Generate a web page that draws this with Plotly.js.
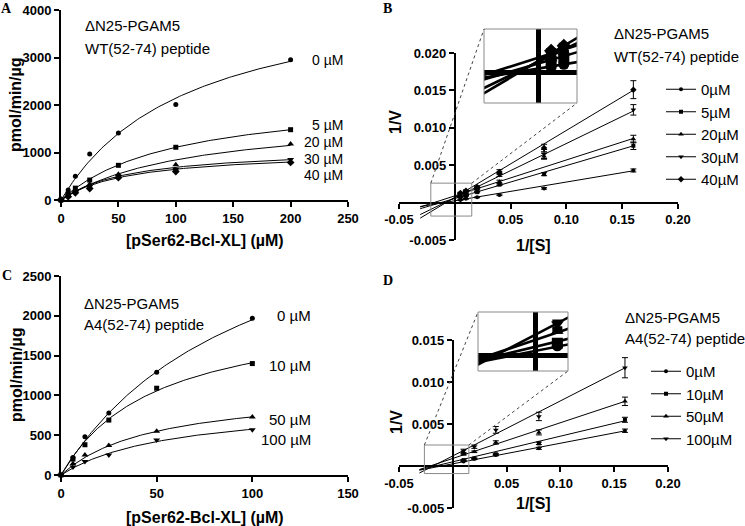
<!DOCTYPE html>
<html><head><meta charset="utf-8">
<script src="https://cdn.plot.ly/plotly-3.0.1.min.js"></script>
<style>html,body{margin:0;padding:0;background:#fff}#chart{width:745px;height:526px}</style>
</head><body><div id="chart"></div>
<script>
// ---------------- Panel A : v vs [S], WT(52-74) peptide ----------------
const sA = [0, 6.25, 12.5, 25, 50, 100, 200];
const namesA = ['0 µM', '5 µM', '20 µM', '30 µM', '40 µM'];
const vA_0  = [0, 210, 500, 970, 1410, 2010, 2950];
const vA_5  = [0, 130, 250, 420, 730, 1110, 1480];
const vA_20 = [0, 100, 200, 330, 540, 740, 1180];
const vA_30 = [0, 90, 170, 280, 500, 640, 850];
const vA_40 = [0, 70, 150, 240, 470, 600, 790];
const vmaxA = [4570, 2220, 1800, 1109, 1044];   // Michaelis-Menten fit
const kmA   = [113, 100, 113, 61, 61];
const labelYA = [2950, 1580, 1220, 870, 520];

// ---------------- Panel B : Lineweaver-Burk, WT peptide ----------------
const invSB = [0.005, 0.01, 0.02, 0.04, 0.08, 0.16];
const namesB = ['0µM', '5µM', '20µM', '30µM', '40µM'];
const ivB_0  = [0.00034, 0.0005, 0.0007, 0.00103, 0.0019, 0.0043];
const ivB_5  = [0.00068, 0.0009, 0.0014, 0.0024, 0.0038, 0.0076];
const ivB_20 = [0.00085, 0.0012, 0.0018, 0.0028, 0.0062, 0.0085];
const ivB_30 = [0.0011, 0.0014, 0.0019, 0.0037, 0.0065, 0.0124];
const ivB_40 = [0.0013, 0.0016, 0.0021, 0.0041, 0.0073, 0.0151];
const erB_0  = [0.00003, 0.00004, 0.00005, 0.0001, 0.0001, 0.0002];
const erB_5  = [0.00004, 0.00005, 0.00008, 0.0001, 0.0002, 0.0005];
const erB_20 = [0.00005, 0.00008, 0.0001, 0.0002, 0.0004, 0.0005];
const erB_30 = [0.00006, 0.0001, 0.0001, 0.0002, 0.0006, 0.0007];
const erB_40 = [0.00008, 0.0001, 0.0001, 0.0003, 0.0005, 0.0012];
const slopeB = [0.0250, 0.0440, 0.0480, 0.0725, 0.0895];
const icptB  = [0.00025, 0.00055, 0.0009, 0.00065, 0.0007];
const lineStartB = -0.031;

// ---------------- Panel C : v vs [S], A4(52-74) peptide ----------------
const sC = [0, 6.25, 12.5, 25, 50, 100];
const namesC = ['0 µM', '10 µM', '50 µM', '100 µM'];
const vC_0   = [0, 220, 480, 780, 1290, 1970];
const vC_10  = [0, 200, 380, 690, 1090, 1400];
const vC_50  = [0, 140, 250, 370, 550, 730];
const vC_100 = [0, 100, 170, 250, 440, 570];
const vmaxC = [3900, 2115, 1088, 911];
const kmC   = [100, 50, 49, 58.5];
const labelYC = [2010, 1380, 700, 450];

// ---------------- Panel D : Lineweaver-Burk, A4 peptide ----------------
const invSD = [0.01, 0.02, 0.04, 0.08, 0.16];
const namesD = ['0µM', '10µM', '50µM', '100µM'];
const ivD_0   = [0.00055, 0.00085, 0.0013, 0.0021, 0.0042];
const ivD_10  = [0.0007, 0.0009, 0.0014, 0.0027, 0.0055];
const ivD_50  = [0.0014, 0.0017, 0.0028, 0.0040, 0.0077];
const ivD_100 = [0.0018, 0.0023, 0.0043, 0.0059, 0.0117];
const erD_0   = [0.00003, 0.00005, 0.00008, 0.00012, 0.0002];
const erD_10  = [0.00004, 0.00006, 0.0001, 0.00015, 0.0003];
const erD_50  = [0.00008, 0.0001, 0.0002, 0.0003, 0.0005];
const erD_100 = [0.0002, 0.0002, 0.0004, 0.0005, 0.0012];
const slopeD = [0.0245, 0.0305, 0.0425, 0.0655];
const icptD  = [0.00026, 0.0005, 0.0009, 0.0012];
const lineStartD = -0.031;

// ---------------- styling / geometry ----------------
const F = 'Liberation Sans, Arial, Helvetica, sans-serif';
const FS = 'Liberation Serif, Times New Roman, serif';
const W = 745, H = 526;
const px = p => p / W;
const py = p => 1 - p / H;
const blk = '#000';
const syms = ['circle', 'square', 'triangle-up', 'triangle-down', 'diamond'];
const msz  = [5, 5, 6, 6, 6];

const AX = {
  x2: {d: [px(399), px(678)], r: [-0.05, 0.20]},
  y2: {d: [py(240), py(53)],  r: [-0.005, 0.020]},
  x4: {d: [px(399), px(668)], r: [-0.05, 0.20]},
  y4: {d: [py(508), py(340)], r: [-0.005, 0.015]}
};
function toPaper(ax, v) { const a = AX[ax]; return a.d[0] + (v - a.r[0]) / (a.r[1] - a.r[0]) * (a.d[1] - a.d[0]); }

const insetB = {xr: [-0.0215, 0.0152], yr: [-0.0018, 0.0026], box: [484, 577, 29, 103]};
const insetD = {xr: [-0.0264, 0.0149], yr: [-0.0009, 0.0025], box: [478, 568, 312, 371]};

function mmCurve(vmax, km, xmax) {
  const xs = [], ys = [];
  for (let i = 0; i <= 120; i++) { const x = xmax * i / 120; xs.push(x); ys.push(vmax * x / (km + x)); }
  return {x: xs, y: ys};
}

const traces = [];
function mmPanel(s, vals, vmax, km, xa, ya) {
  vals.forEach((v, i) => {
    const c = mmCurve(vmax[i], km[i], s[s.length - 1]);
    traces.push({type: 'scatter', x: c.x, y: c.y, mode: 'lines', line: {color: blk, width: 1},
      xaxis: xa, yaxis: ya, showlegend: false, hoverinfo: 'skip'});
    traces.push({type: 'scatter', x: s, y: v, mode: 'markers', marker: {symbol: syms[i], size: msz[i], color: blk},
      xaxis: xa, yaxis: ya, cliponaxis: false, showlegend: false, hoverinfo: 'skip'});
  });
}
mmPanel(sA, [vA_0, vA_5, vA_20, vA_30, vA_40], vmaxA, kmA, 'x', 'y');
mmPanel(sC, [vC_0, vC_10, vC_50, vC_100], vmaxC, kmC, 'x3', 'y3');

function lbPanel(xs, vals, errs, slope, icpt, x0, names, xa, ya, ixa, iya, leg) {
  const xEnd = xs[xs.length - 1];
  vals.forEach((v, i) => {
    const lx = [x0, xEnd], ly = lx.map(x => icpt[i] + slope[i] * x);
    traces.push({type: 'scatter', x: lx, y: ly, mode: 'lines', line: {color: blk, width: 1},
      xaxis: xa, yaxis: ya, showlegend: false, hoverinfo: 'skip'});
    traces.push({type: 'scatter', x: xs, y: v, mode: 'markers', marker: {symbol: syms[i], size: msz[i] - 1, color: blk},
      error_y: {type: 'data', array: errs[i], color: blk, thickness: 1, width: 3},
      xaxis: xa, yaxis: ya, cliponaxis: false, showlegend: false, hoverinfo: 'skip'});
    // magnified inset
    traces.push({type: 'scatter', x: lx, y: ly, mode: 'lines', line: {color: blk, width: 2.6},
      xaxis: ixa, yaxis: iya, showlegend: false, hoverinfo: 'skip'});
    traces.push({type: 'scatter', x: xs, y: v, mode: 'markers', marker: {symbol: syms[i], size: 11, color: blk},
      error_y: {type: 'data', array: errs[i], color: blk, thickness: 2.6, width: 5},
      xaxis: ixa, yaxis: iya, showlegend: false, hoverinfo: 'skip'});
    // legend entry
    traces.push({type: 'scatter', x: [null], y: [null], mode: 'lines+markers', name: names[i],
      line: {color: blk, width: 1}, marker: {symbol: syms[i], size: msz[i] - 1, color: blk},
      xaxis: xa, yaxis: ya, legend: leg, showlegend: true, hoverinfo: 'skip'});
  });
}
lbPanel(invSB, [ivB_0, ivB_5, ivB_20, ivB_30, ivB_40], [erB_0, erB_5, erB_20, erB_30, erB_40],
  slopeB, icptB, lineStartB, namesB, 'x2', 'y2', 'x5', 'y5', 'legend');
lbPanel(invSD, [ivD_0, ivD_10, ivD_50, ivD_100], [erD_0, erD_10, erD_50, erD_100],
  slopeD, icptD, lineStartD, namesD, 'x4', 'y4', 'x6', 'y6', 'legend2');

// ---------------- axes ----------------
const tickF = {family: F, size: 13, color: blk, weight: 'bold'};
function baseAx(extra) {
  return Object.assign({showline: true, linecolor: blk, linewidth: 2, ticks: 'outside', ticklen: 5, tickwidth: 2,
    tickcolor: blk, showgrid: false, zeroline: false, tickfont: tickF, fixedrange: true}, extra);
}
function insetAx(domain, range, anchor) {
  return {domain: domain, range: range, anchor: anchor, showline: false, ticks: '', showticklabels: false,
    showgrid: false, zeroline: true, zerolinewidth: 5, zerolinecolor: blk, fixedrange: true};
}
const lbXt = [-0.05, 0.05, 0.10, 0.15, 0.20], lbXtt = ['-0.05', '0.05', '0.10', '0.15', '0.20'];

const layout = {
  width: W, height: H, margin: {l: 0, r: 0, t: 0, b: 0}, paper_bgcolor: '#fff', plot_bgcolor: 'rgba(0,0,0,0)',
  hovermode: false, font: {family: F, color: blk},
  xaxis:  baseAx({domain: [px(61), px(348)], range: [0, 250], dtick: 50, anchor: 'y'}),
  yaxis:  baseAx({domain: [py(200), py(10)], range: [0, 4000], dtick: 1000, anchor: 'x'}),
  xaxis3: baseAx({domain: [px(61), px(348)], range: [0, 150], dtick: 50, anchor: 'y3'}),
  yaxis3: baseAx({domain: [py(475), py(276)], range: [0, 2500], dtick: 500, anchor: 'x3'}),
  xaxis2: baseAx({domain: AX.x2.d, range: AX.x2.r, anchor: 'free', position: toPaper('y2', 0),
    tickmode: 'array', tickvals: lbXt, ticktext: lbXtt}),
  yaxis2: baseAx({domain: AX.y2.d, range: AX.y2.r, anchor: 'free', position: toPaper('x2', 0),
    tickmode: 'array', tickvals: [-0.005, 0.005, 0.010, 0.015, 0.020], ticktext: ['-0.005', '0.005', '0.010', '0.015', '0.020']}),
  xaxis4: baseAx({domain: AX.x4.d, range: AX.x4.r, anchor: 'free', position: toPaper('y4', 0),
    tickmode: 'array', tickvals: lbXt, ticktext: lbXtt}),
  yaxis4: baseAx({domain: AX.y4.d, range: AX.y4.r, anchor: 'free', position: toPaper('x4', 0),
    tickmode: 'array', tickvals: [-0.005, 0.005, 0.010, 0.015], ticktext: ['-0.005', '0.005', '0.010', '0.015']}),
  xaxis5: insetAx([px(insetB.box[0]), px(insetB.box[1])], insetB.xr, 'y5'),
  yaxis5: insetAx([py(insetB.box[3]), py(insetB.box[2])], insetB.yr, 'x5'),
  xaxis6: insetAx([px(insetD.box[0]), px(insetD.box[1])], insetD.xr, 'y6'),
  yaxis6: insetAx([py(insetD.box[3]), py(insetD.box[2])], insetD.yr, 'x6'),
  legend:  {x: px(661), y: py(73), xanchor: 'left', yanchor: 'top', bgcolor: 'rgba(0,0,0,0)',
    font: {family: F, size: 15, color: blk}, tracegroupgap: 0, itemclick: false, itemdoubleclick: false},
  legend2: {x: px(646), y: py(355), xanchor: 'left', yanchor: 'top', bgcolor: 'rgba(0,0,0,0)',
    font: {family: F, size: 15, color: blk}, tracegroupgap: 0, itemclick: false, itemdoubleclick: false},
  shapes: [], annotations: []
};

// inset boxes and dotted connectors
function insetShapes(inset, xa, ya) {
  const sx0 = toPaper(xa, inset.xr[0]), sx1 = toPaper(xa, inset.xr[1]);
  const sy0 = toPaper(ya, inset.yr[0]), sy1 = toPaper(ya, inset.yr[1]);
  const bx0 = px(inset.box[0]), bx1 = px(inset.box[1]), byT = py(inset.box[2]), byB = py(inset.box[3]);
  const grey = {color: '#8a8a8a', width: 1};
  layout.shapes.push({type: 'rect', xref: 'paper', yref: 'paper', x0: sx0, x1: sx1, y0: sy0, y1: sy1, line: grey});
  layout.shapes.push({type: 'rect', xref: 'paper', yref: 'paper', x0: bx0, x1: bx1, y0: byB, y1: byT, line: grey});
  const dot = {color: '#444', width: 1, dash: 'dot'};
  layout.shapes.push({type: 'line', xref: 'paper', yref: 'paper', x0: sx0, y0: sy1, x1: bx0, y1: byT, line: dot});
  layout.shapes.push({type: 'line', xref: 'paper', yref: 'paper', x0: sx1, y0: sy1, x1: bx1, y1: byB, line: dot});
}
insetShapes(insetB, 'x2', 'y2');
insetShapes(insetD, 'x4', 'y4');

// text
function ann(text, x, y, opts) {
  layout.annotations.push(Object.assign({text: text, x: px(x), y: py(y), xref: 'paper', yref: 'paper',
    showarrow: false, xanchor: 'left', yanchor: 'middle', font: {family: F, size: 15, color: blk}}, opts || {}));
}
const bold16 = {family: F, size: 16, color: blk, weight: 'bold'};
const letterF = {family: FS, size: 14, color: blk, weight: 'bold'};
ann('A', 7, 9, {xanchor: 'center', font: letterF});
ann('B', 388, 9, {xanchor: 'center', font: letterF});
ann('C', 7, 275, {xanchor: 'center', font: letterF});
ann('D', 388, 280, {xanchor: 'center', font: letterF});

ann('ΔN25-PGAM5', 83, 25); ann('WT(52-74) peptide', 83, 48);
ann('ΔN25-PGAM5', 612, 33); ann('WT(52-74) peptide', 612, 57);
ann('ΔN25-PGAM5', 82, 304); ann('A4(52-74) peptide', 82, 324);
ann('ΔN25-PGAM5', 623, 317); ann('A4(52-74) peptide', 623, 338);

ann('pmol/min/µg', 16, 105, {xanchor: 'center', textangle: -90, font: bold16});
ann('[pSer62-Bcl-XL] (µM)', 205, 240, {xanchor: 'center', font: bold16});
ann('pmol/min/µg', 16, 375, {xanchor: 'center', textangle: -90, font: bold16});
ann('[pSer62-Bcl-XL] (µM)', 205, 517, {xanchor: 'center', font: bold16});
ann('1/V', 396, 122, {xanchor: 'center', textangle: -90, font: bold16});
ann('1/[S]', 533, 245, {xanchor: 'center', font: bold16});
ann('1/V', 396, 422, {xanchor: 'center', textangle: -90, font: bold16});
ann('1/[S]', 533, 503, {xanchor: 'center', font: bold16});

// series labels on the saturation plots
namesA.forEach((n, i) => layout.annotations.push({text: n, x: 247, y: labelYA[i], xref: 'x', yref: 'y',
  showarrow: false, xanchor: 'right', yanchor: 'middle', font: {family: F, size: 14, color: blk}}));
namesC.forEach((n, i) => layout.annotations.push({text: n, x: 131.7, y: labelYC[i], xref: 'x3', yref: 'y3',
  showarrow: false, xanchor: 'right', yanchor: 'middle', font: {family: F, size: 15, color: blk}}));

Plotly.newPlot('chart', traces, layout, {staticPlot: true, displayModeBar: false});
</script></body></html>
